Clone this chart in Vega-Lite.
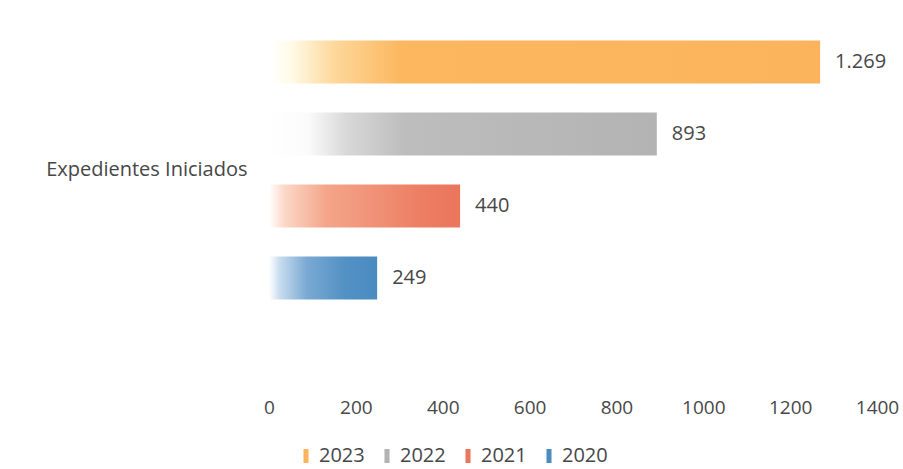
{
  "$schema": "https://vega.github.io/schema/vega-lite/v6.json",
  "width": 608,
  "height": 320,
  "autosize": {"type": "none"},
  "padding": {"left": 269, "top": 10, "right": 26, "bottom": 139},
  "background": "#ffffff",
  "config": {"view": {"stroke": null}, "font": "Open Sans"},
  "data": {
    "values": [
      {"categoria": "Expedientes Iniciados", "anio": "2023", "valor": 1269, "etiqueta": "1.269"},
      {"categoria": "Expedientes Iniciados", "anio": "2022", "valor": 893, "etiqueta": "893"},
      {"categoria": "Expedientes Iniciados", "anio": "2021", "valor": 440, "etiqueta": "440"},
      {"categoria": "Expedientes Iniciados", "anio": "2020", "valor": 249, "etiqueta": "249"}
    ]
  },
  "encoding": {
    "y": {
      "field": "categoria",
      "type": "nominal",
      "title": null,
      "scale": {"paddingInner": 0, "paddingOuter": 0.0556},
      "axis": {"ticks": false, "domain": false, "labelPadding": 22, "labelFontSize": 20, "labelColor": "#474747", "labelFont": "Open Sans", "labelLimit": 400}
    },
    "yOffset": {
      "field": "anio",
      "type": "nominal",
      "sort": ["2023", "2022", "2021", "2020"],
      "scale": {"domain": ["2023", "2022", "2021", "2020"], "paddingInner": 0.4, "paddingOuter": 0.2}
    },
    "x": {
      "field": "valor",
      "type": "quantitative",
      "title": null,
      "scale": {"domain": [0, 1400]},
      "axis": {"values": [0, 200, 400, 600, 800, 1000, 1200, 1400], "format": "d", "grid": false, "domain": false, "ticks": false, "labelPadding": 68, "labelFontSize": 19, "labelFont": "Open Sans", "labelColor": "#474747", "labelFlush": false, "labelOverlap": false}
    }
  },
  "layer": [
    {
      "mark": {"type": "bar", "opacity": 0},
      "encoding": {
        "color": {
          "field": "anio",
          "type": "nominal",
          "sort": ["2023", "2022", "2021", "2020"],
          "scale": {
            "domain": ["2023", "2022", "2021", "2020"],
            "range": ["#fbb45c", "#b3b3b3", "#ea765c", "#4a8bc0"]
          },
          "legend": {
            "title": null,
            "orient": "none",
            "direction": "horizontal",
            "legendX": 27,
            "legendY": 436,
            "symbolType": "M-0.36,-1H0.36V1H-0.36Z",
            "symbolSize": 196,
            "symbolOpacity": 1,
            "symbolStrokeWidth": 0,
            "labelFontSize": 20,
            "labelFont": "Open Sans",
            "labelColor": "#474747",
            "labelOffset": 3,
            "columnPadding": 12
          }
        }
      }
    },
    {
      "transform": [{"filter": "datum.anio == '2023'"}],
      "mark": {"type": "bar", "fill": {"gradient": "linear", "x1": 0, "x2": 1, "y1": 0, "y2": 0, "stops": [{"offset": 0, "color": "#ffffff"}, {"offset": 0.04, "color": "#fffbe8"}, {"offset": 0.12, "color": "#fdd79a"}, {"offset": 0.24, "color": "#fcb75f"}, {"offset": 1, "color": "#fbb45c"}]}},
      "encoding": {}
    },
    {
      "transform": [{"filter": "datum.anio == '2022'"}],
      "mark": {"type": "bar", "fill": {"gradient": "linear", "x1": 0, "x2": 1, "y1": 0, "y2": 0, "stops": [{"offset": 0, "color": "#ffffff"}, {"offset": 0.1, "color": "#fbfbfb"}, {"offset": 0.2, "color": "#d8d8d8"}, {"offset": 0.35, "color": "#bdbdbd"}, {"offset": 1, "color": "#b3b3b3"}]}},
      "encoding": {}
    },
    {
      "transform": [{"filter": "datum.anio == '2021'"}],
      "mark": {"type": "bar", "fill": {"gradient": "linear", "x1": 0, "x2": 1, "y1": 0, "y2": 0, "stops": [{"offset": 0, "color": "#ffffff"}, {"offset": 0.08, "color": "#fbd8c8"}, {"offset": 0.3, "color": "#f4a58a"}, {"offset": 0.8, "color": "#ec7e63"}, {"offset": 1, "color": "#ea765c"}]}},
      "encoding": {}
    },
    {
      "transform": [{"filter": "datum.anio == '2020'"}],
      "mark": {"type": "bar", "fill": {"gradient": "linear", "x1": 0, "x2": 1, "y1": 0, "y2": 0, "stops": [{"offset": 0, "color": "#ffffff"}, {"offset": 0.1, "color": "#c8dcef"}, {"offset": 0.35, "color": "#7aa9d3"}, {"offset": 0.7, "color": "#5391c4"}, {"offset": 1, "color": "#4a8bc0"}]}},
      "encoding": {}
    },
    {
      "mark": {"type": "text", "align": "left", "baseline": "middle", "dx": 15, "fontSize": 20, "font": "Open Sans", "color": "#474747"},
      "encoding": {"text": {"field": "etiqueta", "type": "nominal"}}
    }
  ]
}
